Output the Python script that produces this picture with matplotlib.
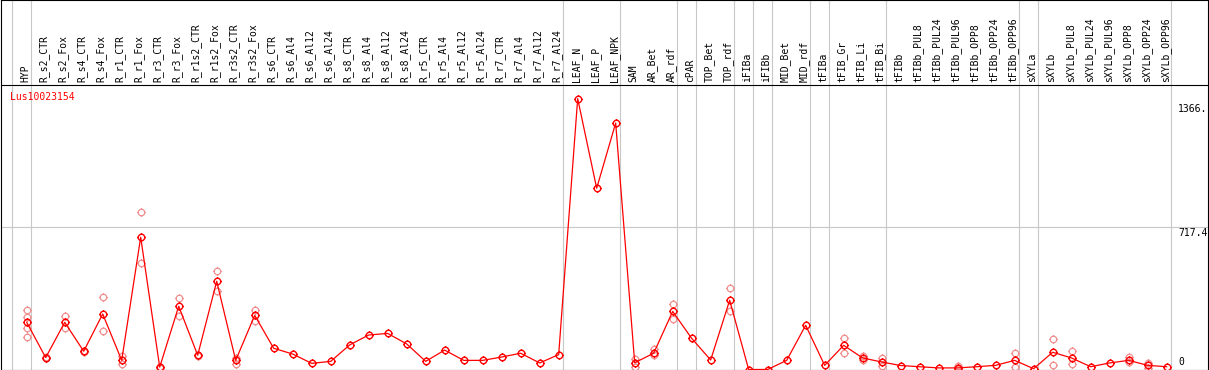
import matplotlib
matplotlib.use('Agg')
import matplotlib.pyplot as plt
from matplotlib.path import Path
import numpy as np

# categories (samples)
categories = ['HYP', 'R_s2_CTR', 'R_s2_Fox', 'R_s4_CTR', 'R_s4_Fox', 'R_r1_CTR', 'R_r1_Fox',
              'R_r3_CTR', 'R_r3_Fox', 'R_r1s2_CTR', 'R_r1s2_Fox', 'R_r3s2_CTR', 'R_r3s2_Fox',
              'R_s6_CTR', 'R_s6_Al4', 'R_s6_Al12', 'R_s6_Al24', 'R_s8_CTR', 'R_s8_Al4',
              'R_s8_Al12', 'R_s8_Al24', 'R_r5_CTR', 'R_r5_Al4', 'R_r5_Al12', 'R_r5_Al24',
              'R_r7_CTR', 'R_r7_Al4', 'R_r7_Al12', 'R_r7_Al24', 'LEAF_N', 'LEAF_P', 'LEAF_NPK',
              'SAM', 'AR_Bet', 'AR_rdf', 'cPAR', 'TOP_Bet', 'TOP_rdf', 'iFIBa', 'iFIBb',
              'MID_Bet', 'MID_rdf', 'tFIBa', 'tFIB_Gr', 'tFIB_Li', 'tFIB_Bi', 'tFIBb',
              'tFIBb_PUL8', 'tFIBb_PUL24', 'tFIBb_PUL96', 'tFIBb_OPP8', 'tFIBb_OPP24',
              'tFIBb_OPP96', 'sXYLa', 'sXYLb', 'sXYLb_PUL8', 'sXYLb_PUL24', 'sXYLb_PUL96',
              'sXYLb_OPP8', 'sXYLb_OPP24', 'sXYLb_OPP96']

# mean expression
means = [238, 60, 238, 92, 280, 46, 667, 12, 319, 72, 445, 46, 273,
         107, 78, 31, 41, 124, 174, 182, 129, 41, 98, 46, 46, 63, 82, 33, 75,
         1366, 914, 1243,
         34, 82, 293, 157, 48, 349, 0, 0, 46, 223, 21, 122, 58, 38, 20,
         14, 8, 8, 14, 21, 46, 4, 87, 58, 14, 33, 46, 21, 14]

# replicate values (same order as categories)
reps = [[300, 266, 208, 162], [62, 57], [270, 208], [95, 88], [364, 193], [70, 26],
        [796, 536], [14, 10], [359, 271], [74, 70], [495, 397], [60, 29], [300, 246],
        [], [], [], [], [], [], [], [], [], [], [], [], [], [], [], [],
        [], [], [],
        [54, 14], [102, 73], [329, 256], [], [], [409, 293], [], [], [], [], [],
        [157, 82], [66, 46], [56, 19], [], [], [], [19, 2], [], [], [83, 14], [],
        [152, 21], [92, 28], [], [], [61, 38], [34, 10], []]

# last sample of each group (vertical separators)
group_ends = [-1, 0, 28, 31, 34, 35, 37, 38, 39, 41, 42, 45, 52, 53, 60]

gene = 'Lus10023154'
ymid = 717.4
ymax_lbl = '1366.'

fig = plt.figure(figsize=(12.09, 3.70), dpi=100)
ax = fig.add_axes([1.0 / 1209, 0.5 / 370, 1206.5 / 1209, 369.5 / 370])

x = np.arange(len(categories))
ytop = 2 * ymid
scale = (369.5 - 85) / ytop
ax.set_xlim(-1.353, 62.15)
ax.set_ylim(0, 369.5 / scale)

for g in group_ends:
    ax.axvline(g + 4 / 19, color='#c8c8c8', lw=0.8, zorder=0)
ax.axhline(ymid, color='#c8c8c8', lw=0.8, zorder=0)
ax.axhline(ytop, color='black', lw=0.8, zorder=1)

# marker: circle with small ticks
circ = Path.unit_circle()
ticks = Path([[0, 1], [0, 1.35], [0, -1], [0, -1.35], [1, 0], [1.35, 0], [-1, 0], [-1.35, 0]],
             [Path.MOVETO, Path.LINETO] * 4)
mk = Path.make_compound_path(circ, ticks)

rx, ry = [], []
for i, r in enumerate(reps):
    for v in r:
        rx.append(i)
        ry.append(v)
ax.plot(rx, ry, linestyle='none', marker=mk, markersize=6.3, mfc='none',
        mec='#f09090', mew=0.9, zorder=2)
ax.plot(x, means, color='red', lw=0.9, marker=mk, markersize=6.3, mfc='none',
        mec='red', mew=1.0, zorder=3)

mono = 'DejaVu Sans Mono'
for i, c in enumerate(categories):
    ax.annotate(c, xy=(i, ytop), xytext=(-1.5, 2.5), textcoords='offset pixels',
                rotation=90, ha='center', va='bottom', fontsize=7, family=mono)

ax.annotate(gene, xy=(0, ytop), xytext=(-16.7, -12.3), textcoords='offset pixels',
            ha='left', va='center', fontsize=7, family=mono, color='red')

ax.annotate(ymax_lbl, xy=(60, max(means)), xytext=(11, -10.4), textcoords='offset pixels',
            ha='left', va='center', fontsize=7, family=mono)
ax.annotate(str(ymid), xy=(60, ymid), xytext=(11.5, -5.5), textcoords='offset pixels',
            ha='left', va='center', fontsize=7, family=mono)
ax.annotate('0', xy=(60, 0), xytext=(12, 7.5), textcoords='offset pixels',
            ha='left', va='center', fontsize=7, family=mono)

ax.set_xticks([])
ax.set_yticks([])
for s in ax.spines.values():
    s.set_linewidth(0.8)
    s.set_color('black')

plt.savefig('out.png', dpi=100)
